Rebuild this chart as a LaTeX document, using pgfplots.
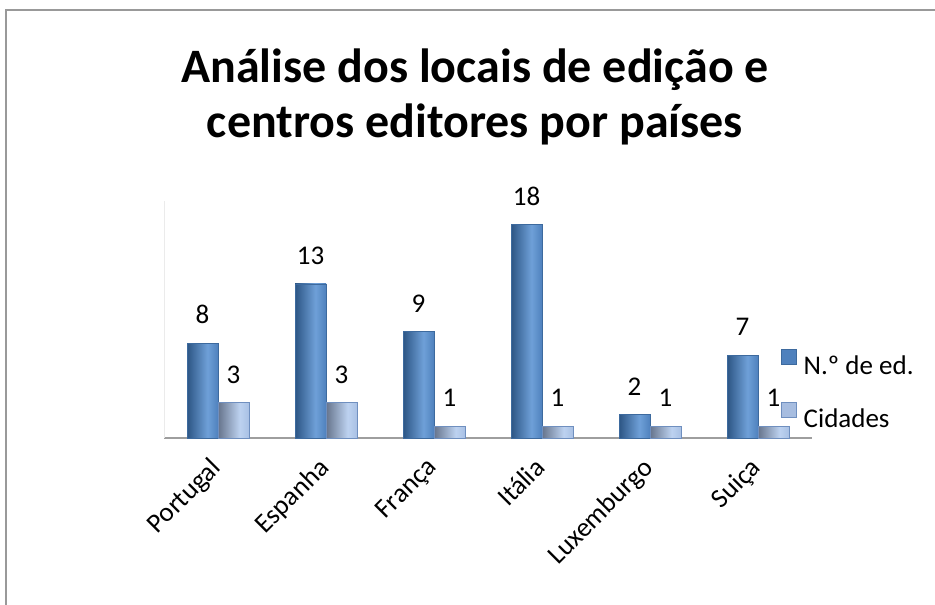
\documentclass[border=0pt]{standalone}
\usepackage{pgfplots}
\pgfplotsset{compat=1.18}
\usepackage{fontspec}
\setmainfont{Carlito}
\definecolor{nA}{HTML}{2C5584}
\definecolor{nB}{HTML}{6FA0D8}
\definecolor{nC}{HTML}{4F81BD}
\definecolor{nE}{HTML}{3D6A9E}
\definecolor{cA}{HTML}{66748C}
\definecolor{cB}{HTML}{BDD2F0}
\definecolor{cC}{HTML}{A8C0E4}
\definecolor{cE}{HTML}{6F8FBF}
\definecolor{legC}{HTML}{A7BDE0}
\pgfdeclarehorizontalshading{nshade}{100bp}{color(0bp)=(nA); color(25bp)=(nA); color(58bp)=(nB); color(75bp)=(nC); color(100bp)=(nC)}
\pgfdeclarehorizontalshading{cshade}{100bp}{color(0bp)=(cA); color(25bp)=(cA); color(60bp)=(cB); color(75bp)=(cC); color(100bp)=(cC)}
\pgfplotsset{
  nbar/.style={ybar, bar width=31pt, bar shift=-15.5pt, shade, shading=nshade, draw=nE, line width=0.5pt, nodes near coords, forget plot,
    every node near coord/.append style={xshift=-15.5pt}},
  cbar/.style={ybar, bar width=31pt, bar shift=15.5pt, shade, shading=cshade, draw=cE, line width=0.5pt, nodes near coords, forget plot,
    every node near coord/.append style={xshift=15.5pt}},
}
\begin{document}
\begin{tikzpicture}
\useasboundingbox (0pt,0pt) rectangle (935pt,605pt);
\fill[white] (0pt,0pt) rectangle (935pt,605pt);
\draw[color=black!40, line width=1.5pt] (6pt,-10pt) -- (6pt,595pt) -- (945pt,595pt);
\node[font=\bfseries\fontsize{48}{58}\selectfont, anchor=base, inner sep=0pt] at (475pt,522pt) {Análise dos locais de edição e};
\node[font=\bfseries\fontsize{48}{58}\selectfont, anchor=base, inner sep=0pt] at (475pt,467pt) {centros editores por países};
\begin{axis}[
  at={(218pt,167pt)}, anchor=origin,
  scale only axis, width=648pt, height=237pt,
  xmin=-0.5, xmax=5.5, ymin=0, ymax=20,
  axis x line=bottom, axis y line=left,
  x axis line style={draw=black!38, line width=1.6pt, -},
  y axis line style={draw=black!8, line width=0.6pt, -},
  ytick=\empty,
  xtick={0,1,2,3,4,5},
  xticklabels={Portugal,Espanha,França,Itália,Luxemburgo,Suiça},
  major tick length=0pt,
  xticklabel style={xshift=-9pt, yshift=-18pt, rotate=45, anchor=north east, inner sep=0pt, font=\fontsize{27}{32}\selectfont},
  /pgf/number format/assume math mode=true,
  every node near coord/.append style={font=\fontsize{27}{32}\selectfont, inner sep=0pt, anchor=south, yshift=19pt, text=black},
  legend style={at={(axis description cs:0.952,0.3755)}, anchor=north west, draw=none, fill=none,
    inner xsep=0pt, inner ysep=0pt, font=\fontsize{27}{32}\selectfont, row sep=23pt,
    nodes={inner sep=0pt, text height=18pt, text depth=5pt}},
  legend cell align=left,
  clip=false,
]
\addplot[nbar] coordinates {(0,8)};
\addplot[nbar] coordinates {(1,13)};
\addplot[nbar] coordinates {(2,9)};
\addplot[nbar] coordinates {(3,18)};
\addplot[nbar] coordinates {(4,2)};
\addplot[nbar] coordinates {(5,7)};
\addplot[cbar] coordinates {(0,3)};
\addplot[cbar] coordinates {(1,3)};
\addplot[cbar] coordinates {(2,1)};
\addplot[cbar] coordinates {(3,1)};
\addplot[cbar] coordinates {(4,1)};
\addplot[cbar] coordinates {(5,1)};
\addlegendimage{legend image code/.code={\draw[fill=nC, draw=nE, line width=0.8pt] (0pt,3pt) rectangle (15pt,18pt); \path (22pt,0pt);}}
\addlegendentry{N.º de ed.}
\addlegendimage{legend image code/.code={\draw[fill=legC, draw=cE, line width=0.8pt] (0pt,3pt) rectangle (15pt,18pt); \path (22pt,0pt);}}
\addlegendentry{Cidades}
\end{axis}
\end{tikzpicture}
\end{document}
